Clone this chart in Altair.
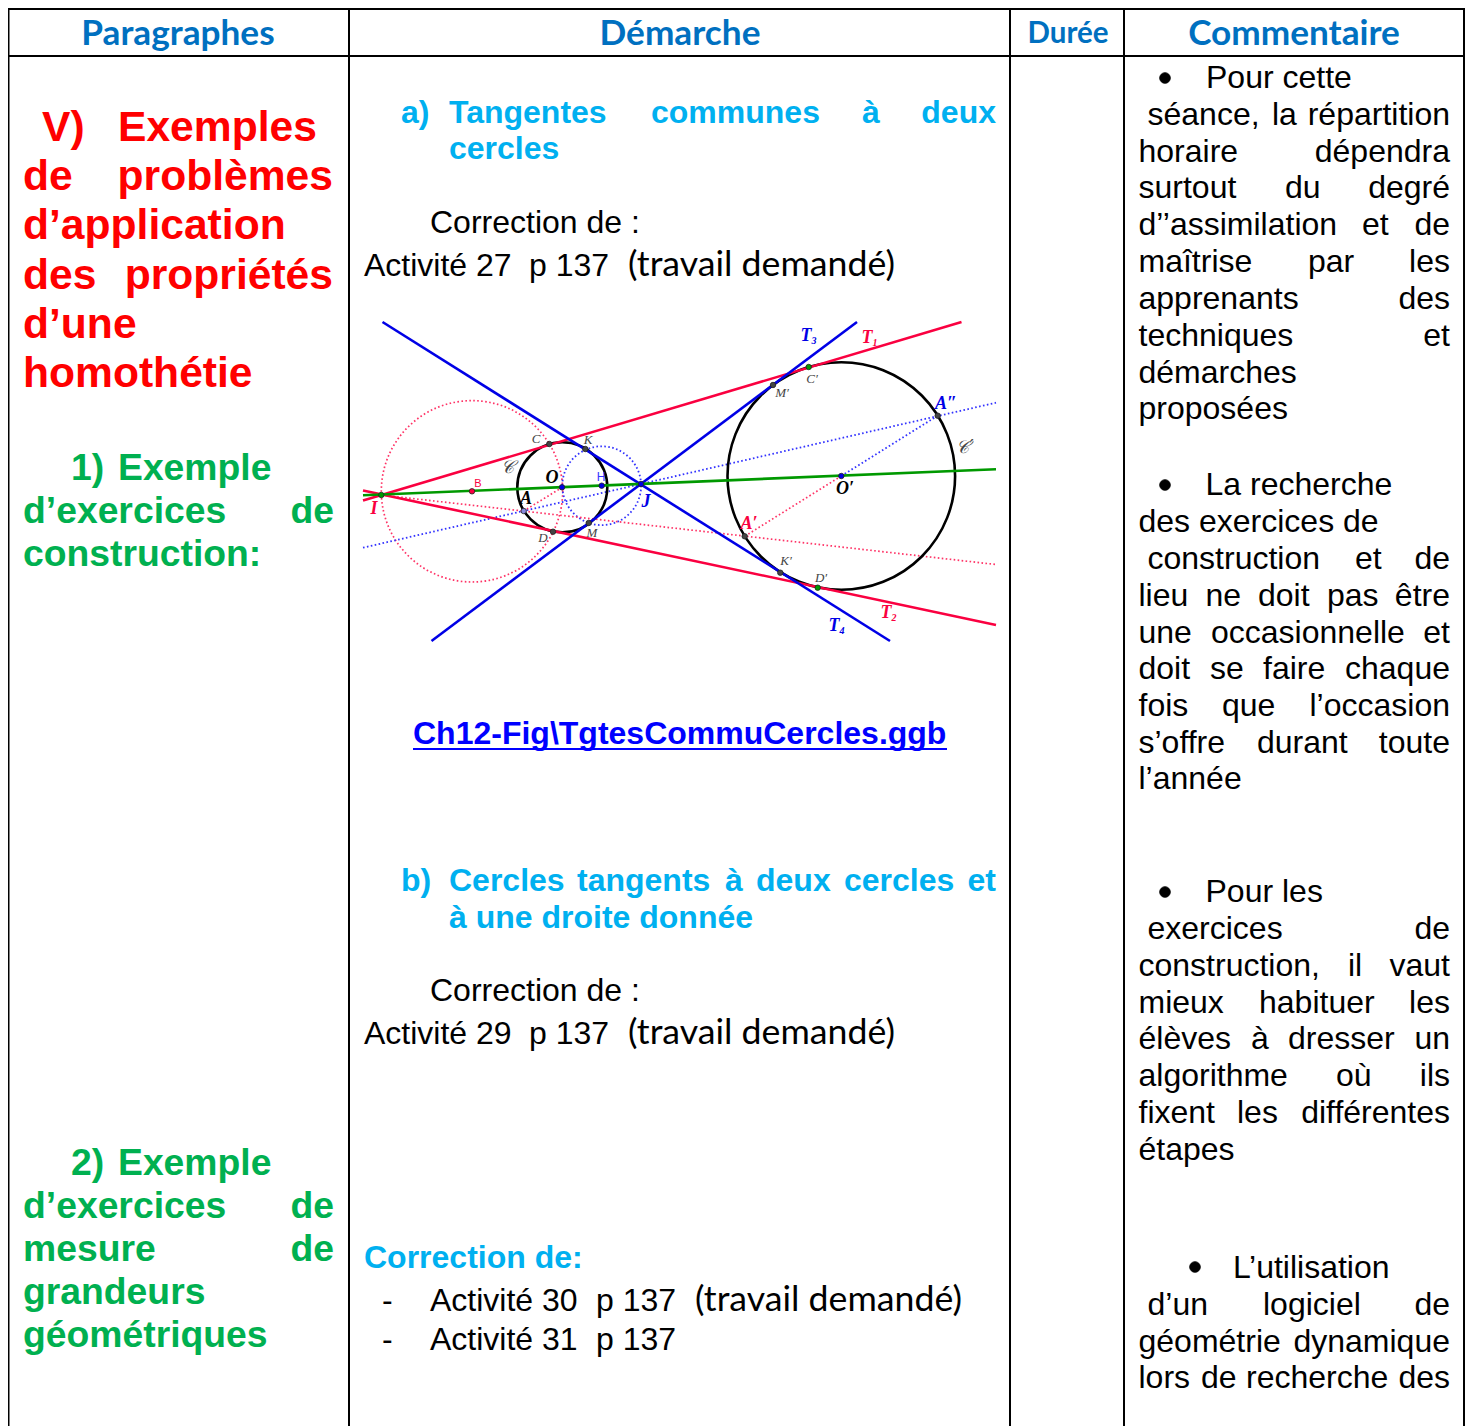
import altair as alt
import pandas as pd

W, H = 1457, 1418
X = alt.Scale(domain=[8, 8 + W], nice=False, zero=False)
Y = alt.Scale(domain=[8, 8 + H], nice=False, zero=False, reverse=True)

ARIAL = "Liberation Sans"
SERIF = "Liberation Serif"
BLACK = "#000000"
RED = "#FF0000"
GREEN = "#00B050"
SKY = "#00B0F0"
HEAD = "#0070C0"
LINK = "#0000FF"
FRED = "#FA0040"
FBLUE = "#0000E6"
FGREEN = "#009900"
FPINK = "#FF3366"
FDOT = "#3333FF"
GREY = "#444444"

# ---------- table ----------
table_v = [8.5, 349, 1010, 1124, 1464]
table_h = [9, 56]

# ---------- word lists: (text, x or right edge, baseline) ----------
head_main = [("Paragraphes", 178, 45), ("Démarche", 680, 45), ("Commentaire", 1294, 45)]
head_small = [("Durée", 1068, 43)]

red_left = [("V)", 42, 141), ("Exemples", 118, 141), ("de", 23, 190), ("d’application", 23, 239),
            ("des", 23, 289), ("d’une", 23, 338), ("homothétie", 23, 387)]
red_right = [("problèmes", 333, 190), ("propriétés", 333, 289)]

green_left = [("1)", 71, 480), ("Exemple", 118, 480), ("d’exercices", 23, 523), ("construction:", 23, 566),
              ("2)", 71, 1175), ("Exemple", 118, 1175), ("d’exercices", 23, 1218), ("mesure", 23, 1261),
              ("grandeurs", 23, 1304), ("géométriques", 23, 1347)]
green_right = [("de", 334, 523), ("de", 334, 1218), ("de", 334, 1261)]

sky_left = [("a)", 401, 123), ("Tangentes", 449, 123), ("communes", 651, 123), ("à", 862, 123),
            ("cercles", 449, 159), ("b)", 401, 891), ("Cercles", 449, 891), ("tangents", 577, 891),
            ("à", 725, 891), ("deux", 756, 891), ("cercles", 844, 891), ("à une droite donnée", 449, 928),
            ("Correction de:", 364, 1268)]
sky_right = [("deux", 996, 123), ("et", 996, 891)]

link_text = [("Ch12-Fig\\TgtesCommuCercles.ggb", 413, 744)]
link_under = [(413, 947, 749)]

body_mid = [("Correction de :", 430, 233), ("Activité 27", 364, 276), ("p 137", 529, 276),
            ("Correction de :", 430, 1001), ("Activité 29", 364, 1044), ("p 137", 529, 1044),
            ("-", 382, 1311), ("Activité 30", 430, 1311), ("p 137", 596, 1311),
            ("-", 382, 1350), ("Activité 31", 430, 1350), ("p 137", 596, 1350)]
body_cal = [("(travail demandé)", 628, 276), ("(travail demandé)", 628, 1044), ("(travail demandé)", 695, 1311)]

comm_left = [("Pour cette", 1206, 88), ("séance,", 1147.5, 125), ("la", 1272, 125), ("horaire", 1138.5, 162),
             ("surtout", 1138.5, 198), ("du", 1285, 198), ("d’’assimilation", 1138.5, 235), ("et", 1362, 235),
             ("maîtrise", 1138.5, 272), ("par", 1308, 272), ("apprenants", 1138.5, 309), ("techniques", 1138.5, 346),
             ("démarches", 1138.5, 383), ("proposées", 1138.5, 419),
             ("La recherche", 1205.5, 495), ("des exercices de", 1138.5, 532), ("construction", 1147.5, 569),
             ("et", 1355, 569), ("lieu", 1138.5, 606), ("ne", 1205.5, 606), ("doit", 1258, 606), ("pas", 1327, 606),
             ("une", 1138.5, 643), ("occasionnelle", 1211, 643), ("doit", 1138.5, 679), ("se", 1210, 679),
             ("faire", 1263, 679), ("fois", 1138.5, 716), ("que", 1222, 716), ("s’offre", 1138.5, 753),
             ("durant", 1257, 753), ("l’année", 1138.5, 789),
             ("Pour les", 1205.5, 902), ("exercices", 1147.5, 939), ("construction,", 1138.5, 976), ("il", 1348, 976),
             ("mieux", 1138.5, 1013), ("habituer", 1259, 1013), ("élèves", 1138.5, 1049), ("à", 1251, 1049),
             ("dresser", 1288, 1049), ("algorithme", 1138.5, 1086), ("où", 1336, 1086), ("fixent", 1138.5, 1123),
             ("les", 1237, 1123), ("étapes", 1138.5, 1160),
             ("L’utilisation", 1233, 1278), ("d’un", 1147.5, 1315), ("logiciel", 1263, 1315),
             ("géométrie", 1138.5, 1352), ("lors", 1138.5, 1388), ("de", 1201, 1388), ("recherche", 1246, 1388)]
comm_right = [("répartition", 1450, 125), ("dépendra", 1450, 162), ("degré", 1450, 198), ("de", 1450, 235),
              ("les", 1450, 272), ("des", 1450, 309), ("et", 1450, 346), ("de", 1450, 569), ("être", 1450, 606),
              ("et", 1450, 643), ("chaque", 1450, 679), ("l’occasion", 1450, 716), ("toute", 1450, 753),
              ("de", 1450, 939), ("vaut", 1450, 976), ("les", 1450, 1013), ("un", 1450, 1049), ("ils", 1450, 1086),
              ("différentes", 1450, 1123), ("de", 1450, 1315), ("dynamique", 1450, 1352), ("des", 1450, 1388)]
bullets_xy = [(1165, 78), (1165, 485), (1165, 892), (1195, 1267)]

# ---------- figure: straight lines (x1, y1, x2, y2) ----------
solid_red = [(363, 500.5, 961.5, 322), (363, 490.5, 996, 625)]
solid_blue = [(431.5, 641, 857, 322), (382.5, 322, 890, 641)]
solid_green = [(363, 495.3, 996, 469.3)]
dotted_blue = [(363, 547.7, 996, 402.7), (841.3, 476, 937.7, 415.7)]
dotted_red = [(381.3, 495, 996, 564.5), (841.3, 476, 744.7, 536.3), (562.3, 487.3, 523.7, 511)]

# ---------- figure: circles (cx, cy, radius) ----------
black_circles = [(562.3, 487.3, 45), (841.3, 476, 113.8)]
pink_circles = [(472, 491.3, 90.7)]
blue_circles = [(601.7, 485.7, 39.4)]

# ---------- figure: points ----------
pts_green = [(381.3, 495), (808.7, 367), (817.7, 587.7)]
pts_red = [(472, 491.3)]
pts_blue = [(562, 487.3), (601.7, 485.7), (641, 484), (841.3, 476)]
pts_lblue = [(523.7, 511)]
pts_grey = [(549.3, 444), (585.3, 449), (588.7, 523), (553, 531.7), (773, 385), (937.7, 415.7),
            (744.7, 536.3), (780.3, 572.7)]

# ---------- figure: labels (text, centre x, baseline) ----------
lab_black = [("O", 552, 483), ("A", 526, 504), ("O′", 845, 494)]
lab_blue = [("J", 646, 507), ("A″", 946, 409), ("T", 806, 341), ("T", 834, 631)]
lab_red = [("I", 374, 514), ("A′", 749, 529), ("T", 867, 343), ("T", 886, 618)]
lab_sub_blue = [("3", 814, 344), ("4", 842, 634)]
lab_sub_red = [("1", 875, 346), ("2", 894, 621)]
lab_grey = [("C", 536, 443), ("K", 588, 444), ("D", 543, 542), ("M", 592, 537), ("C′", 812, 383),
            ("M′", 782, 397), ("K′", 786, 565), ("D′", 821, 582)]
lab_script = [("𝒞", 507, 473), ("𝒞′", 965, 453)]
lab_sans_red = [("B", 478, 487)]
lab_sans_blue = [("H", 601, 481)]


def text_df(rows):
    return pd.DataFrame(rows, columns=["t", "x", "y"])


def seg(rows, color, width, dash=None):
    df = pd.DataFrame(rows, columns=["x", "y", "x2", "y2"])
    kw = {"color": color, "strokeWidth": width}
    if dash:
        kw["strokeDash"] = dash
    return alt.Chart(df).mark_rule(**kw).encode(
        x=alt.X("x:Q", scale=X, axis=None), y=alt.Y("y:Q", scale=Y, axis=None), x2="x2:Q", y2="y2:Q")


def words(rows, font, size, color, bold=False, align="left", italic=False):
    kw = dict(font=font, fontSize=size, color=color, align=align, baseline="alphabetic")
    if bold:
        kw["fontWeight"] = "bold"
    if italic:
        kw["fontStyle"] = "italic"
    return alt.Chart(text_df(rows)).mark_text(**kw).encode(
        x=alt.X("x:Q", scale=X, axis=None), y=alt.Y("y:Q", scale=Y, axis=None), text="t:N")


def circles(rows, color, width, dash=None):
    df = pd.DataFrame(rows, columns=["x", "y", "r"])
    df["s"] = (2 * df["r"]) ** 2
    kw = {"color": color, "strokeWidth": width, "filled": False, "shape": "circle", "opacity": 1}
    if dash:
        kw["strokeDash"] = dash
    return alt.Chart(df).mark_point(**kw).encode(
        x=alt.X("x:Q", scale=X, axis=None), y=alt.Y("y:Q", scale=Y, axis=None),
        size=alt.Size("s:Q", scale=None))


def dots(rows, color, size=30, edge="#222222"):
    df = pd.DataFrame(rows, columns=["x", "y"])
    return alt.Chart(df).mark_point(filled=True, fill=color, stroke=edge, strokeWidth=0.8,
                                    size=size, shape="circle", opacity=1).encode(
        x=alt.X("x:Q", scale=X, axis=None), y=alt.Y("y:Q", scale=Y, axis=None))


vrules = [(x, 9, x, 1426) for x in table_v]
hrules = [(8, y, 1465, y) for y in table_h]

layers = [
    seg(vrules, BLACK, 2), seg(hrules, BLACK, 2),
    words(head_main, "Lato", 35.2, HEAD, bold=True, align="center"),
    words(head_small, "Lato", 29.5, HEAD, bold=True, align="center"),
    words(red_left, ARIAL, 42.6, RED, bold=True),
    words(red_right, ARIAL, 42.6, RED, bold=True, align="right"),
    words(green_left, ARIAL, 37.3, GREEN, bold=True),
    words(green_right, ARIAL, 37.3, GREEN, bold=True, align="right"),
    words(sky_left, ARIAL, 32, SKY, bold=True),
    words(sky_right, ARIAL, 32, SKY, bold=True, align="right"),
    words(link_text, ARIAL, 32, LINK, bold=True),
    seg([(a, y, b, y) for a, b, y in link_under], LINK, 2),
    words(body_mid, ARIAL, 32, BLACK),
    words(body_cal, "Lato", 35.7, BLACK),
    words(comm_left, ARIAL, 32, BLACK),
    words(comm_right, ARIAL, 32, BLACK, align="right"),
    dots(bullets_xy, BLACK, 115, BLACK),
    circles(pink_circles, FPINK, 1.7, [1.6, 2.4]),
    circles(blue_circles, FDOT, 1.8, [1.6, 2.4]),
    seg(dotted_blue, FDOT, 1.8, [1.6, 2.4]),
    seg(dotted_red, FPINK, 1.7, [1.6, 2.4]),
    circles(black_circles, BLACK, 2.6),
    seg(solid_red, FRED, 2.6), seg(solid_blue, FBLUE, 2.6), seg(solid_green, FGREEN, 2.6),
    dots(pts_grey, GREY), dots(pts_green, FGREEN), dots(pts_red, FRED), dots(pts_blue, FBLUE),
    dots(pts_lblue, "#8888DD"),
    words(lab_black, SERIF, 18, BLACK, bold=True, align="center", italic=True),
    words(lab_blue, SERIF, 18, FBLUE, bold=True, align="center", italic=True),
    words(lab_red, SERIF, 18, FRED, bold=True, align="center", italic=True),
    words(lab_sub_blue, SERIF, 10, FBLUE, bold=True, align="center", italic=True),
    words(lab_sub_red, SERIF, 10, FRED, bold=True, align="center", italic=True),
    words(lab_grey, SERIF, 13, GREY, align="center", italic=True),
    words(lab_script, "DejaVu Serif", 18, GREY, align="center", italic=True),
    words(lab_sans_red, ARIAL, 11, FRED, align="center"),
    words(lab_sans_blue, ARIAL, 12, FDOT, align="center"),
]

chart = alt.layer(*layers).properties(
    width=W, height=H, padding=0, autosize=alt.AutoSizeParams(type="none"), background="white"
).configure_view(stroke=None)

chart.save("out.html", embed_options={"renderer": "svg", "actions": False})
